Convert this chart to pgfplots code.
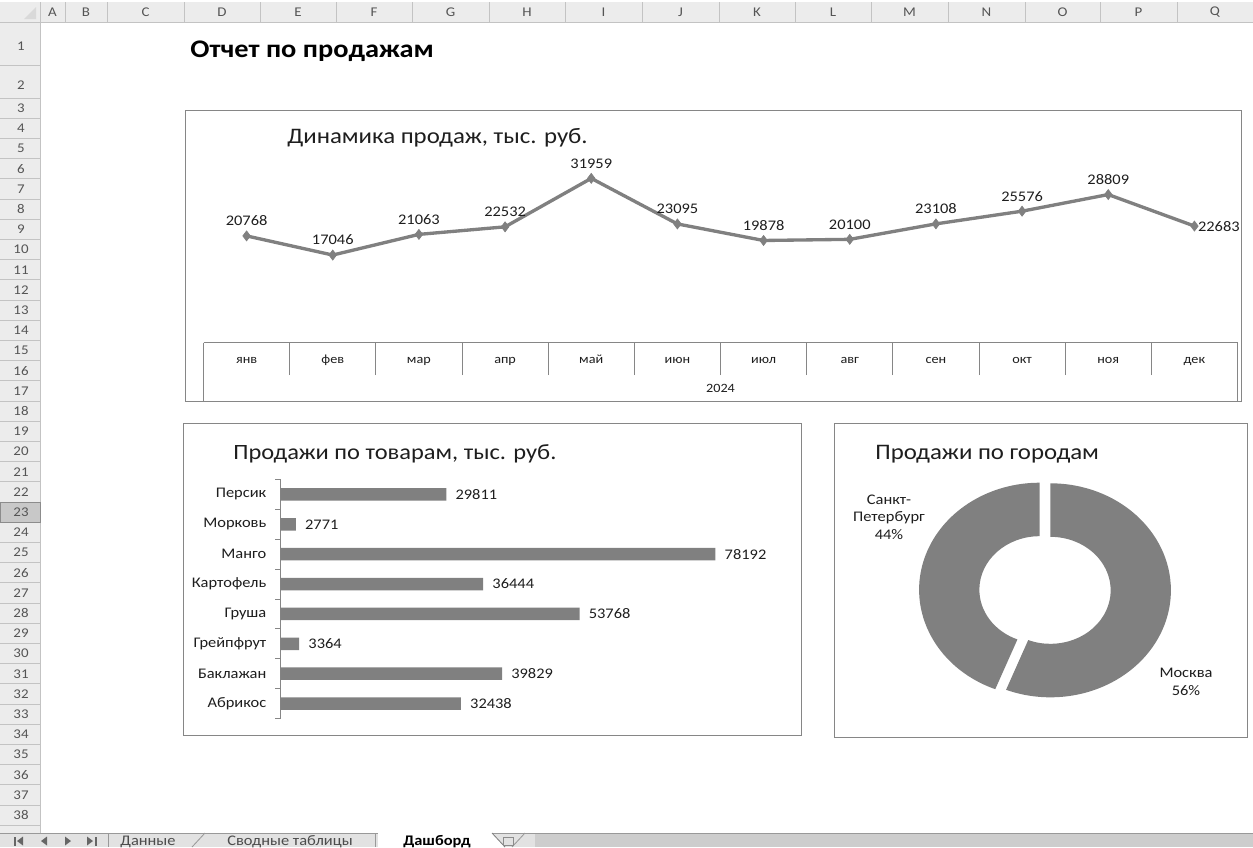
\documentclass[border=0pt]{standalone}
\usepackage{fontspec}
\setmainfont{Carlito}[FakeStretch=1.12]
\usepackage{pgfplots}
\pgfplotsset{compat=1.18}
\usepackage{pgfplotstable}
\usetikzlibrary{calc}

\definecolor{hdrbg}{RGB}{236,236,236}
\definecolor{hdrline}{RGB}{195,195,195}
\definecolor{hdrtxt}{RGB}{85,85,85}
\definecolor{sel}{RGB}{200,200,200}
\definecolor{framec}{RGB}{134,134,134}
\definecolor{series}{RGB}{128,128,128}
\definecolor{txt}{RGB}{30,30,30}
\definecolor{tabbg}{RGB}{226,226,226}
\definecolor{scrollbg}{RGB}{205,205,205}

\newcommand\lbl{\fontsize{8.8}{10.5}\selectfont}
\newcommand\catf{\fontsize{7.6}{9}\selectfont}
\newcommand\ttl{\fontsize{13.3}{16}\selectfont}
\newcommand\hdr{\fontsize{8}{9.6}\selectfont}

\pgfplotsset{/pgf/number format/.cd, assume math mode=true, 1000 sep={}}

% monthly sales, thousand rubles (2024)
\pgfplotstableread{
m y
0 20768
1 17046
2 21063
3 22532
4 31959
5 23095
6 19878
7 20100
8 23108
9 25576
10 28809
11 22683
}\monthly

% sales by product: Абрикос, Баклажан, Грейпфрут, Груша, Картофель, Манго, Морковь, Персик
\pgfplotstableread{
k v
0 32438
1 39829
2 3364
3 53768
4 36444
5 78192
6 2771
7 29811
}\products

% sales by city, percent
\def\pctMos{56}
\def\pctSpb{44}

\begin{document}
\begin{tikzpicture}[x=0.6pt,y=-0.6pt]
\useasboundingbox (0,0) rectangle (1253,847);
\clip (0,0) rectangle (1253,847);
\fill[white] (0,0) rectangle (1253,847);

% anchor points for the axes (pixel grid of the reference)
\coordinate (lineSW) at (203.5,342.7);
\coordinate (barSW) at (280.5,718.5);
\coordinate (donutC) at (1045,590);

% ---------- spreadsheet headers ----------
\fill[hdrbg] (0,2) rectangle (1253,22);
\fill[hdrbg] (0,22) rectangle (40,834);
\fill[sel] (0,502) rectangle (40,522.2);
\draw[hdrline, line width=0.5pt] (0,22) -- (1253,22);
\draw[hdrline, line width=0.5pt] (40,2) -- (40,834);
\fill[white!85!black] (36,7) -- (36,19) -- (24,19) -- cycle;
\foreach \c in {65,107,184,260,336,412,489,565,642,719,795,871,948,1025,1100,1177}
  \draw[hdrline, line width=0.5pt] (\c,2) -- (\c,22);
\foreach \l/\x in {A/52.5,B/86,C/145.5,D/222,E/298,F/374,G/450.5,H/527,I/603.5,J/680.5,K/757,L/833,M/909.5,N/986.5,O/1062.5,P/1138.5,Q/1215}
  \node[font=\hdr, text=hdrtxt] at (\x,12.5) {\l};
\draw[hdrline, line width=0.5pt] (0,65) -- (40,65);
\node[font=\hdr, text=hdrtxt] at (21,46) {1};
\node[font=\hdr, text=hdrtxt] at (21,85) {2};
\foreach \r in {3,...,39}
  \draw[hdrline, line width=0.5pt] (0,{98+(\r-3)*20.2}) -- (40,{98+(\r-3)*20.2});
\foreach \r in {3,...,38}
  \node[font=\hdr, text=hdrtxt] at (21,{108.3+(\r-3)*20.2}) {\r};
\draw[black!45, line width=0.5pt] (0,502) rectangle (40,522.2);

% ---------- sheet tabs ----------
\fill[tabbg] (0,833) rectangle (1253,847);
\fill[scrollbg] (535,833) rectangle (1253,847);
\draw[black!40, line width=0.5pt] (0,833) -- (1253,833);
\fill[black!60] (14,836.5) rectangle (15.5,845.5);
\fill[black!60] (23,836.5) -- (23,845.5) -- (17,841) -- cycle;
\fill[black!60] (47,836.5) -- (47,845.5) -- (41,841) -- cycle;
\fill[black!60] (65,836.5) -- (65,845.5) -- (71,841) -- cycle;
\fill[black!60] (87,836.5) -- (87,845.5) -- (93,841) -- cycle;
\fill[black!60] (95,836.5) rectangle (96.5,845.5);
\draw[black!40, line width=0.5pt] (108,833) -- (108,847);
\draw[black!40, line width=0.5pt] (192,847) -- (205,833);
\draw[black!40, line width=0.5pt] (375,833) -- (375,847);
\fill[white] (378,833) -- (492,833) -- (505,847) -- (378,847) -- cycle;
\draw[black!50, line width=0.5pt] (492,833) -- (505,847);
\draw[black!40, line width=0.5pt] (512,847) -- (525,833);
\draw[black!45, line width=0.5pt] (503,837) rectangle (513,845);
\node[font=\fontsize{8.8}{10}\selectfont, text=black!70, anchor=base, inner sep=0pt] at (148,845.5) {Данные};
\node[font=\fontsize{8.8}{10}\selectfont, text=black!70, anchor=base, inner sep=0pt] at (290,845.5) {Сводные таблицы};
\node[font=\fontsize{8.8}{10}\selectfont\bfseries, text=black, anchor=base, inner sep=0pt] at (437,845.5) {Дашборд};

% ---------- report title ----------
\node[font=\fontsize{15.2}{18}\selectfont\bfseries, text=black, anchor=base west, inner sep=0pt] at (190,57) {Отчет по продажам};

% ---------- chart frames ----------
\draw[framec, line width=0.6pt] (185,110) rectangle (1241,401);
\draw[framec, line width=0.6pt] (183,423) rectangle (801,735);
\draw[framec, line width=0.6pt] (834,423) rectangle (1247,737);

\node[font=\ttl, text=txt, anchor=base west, inner sep=0pt] at (287,143) {Динамика продаж, тыс. руб.};
\node[font=\fontsize{13.1}{16}\selectfont, text=txt, anchor=base west, inner sep=0pt] at (233,459) {Продажи по товарам, тыс. руб.};
\node[font=\ttl, text=txt, anchor=base west, inner sep=0pt] at (875,459) {Продажи по городам};

% outer edges of the category box of the line chart
\draw[framec, line width=0.6pt] (203.5,342.7) -- (203.5,400.5);
\draw[framec, line width=0.6pt] (1237.5,342.7) -- (1237.5,400.5);

% ---------- line chart ----------
\begin{axis}[
  at={(lineSW)}, anchor=south west,
  scale only axis, width=620.4pt, height=108pt,
  xmin=-0.5, xmax=11.5, ymin=0, ymax=35000,
  axis y line=none, axis x line*=bottom,
  axis line style={framec, line width=0.6pt, -},
  xtick={0,...,11},
  xticklabels={янв,фев,мар,апр,май,июн,июл,авг,сен,окт,ноя,дек},
  major tick length=0pt,
  minor xtick={-0.5,0.5,...,11.5},
  minor tick length=19.5pt,
  tick align=outside,
  tick style={framec, line width=0.6pt},
  xticklabel style={font=\catf, text=txt, anchor=base, yshift=-12.5pt},
  clip=false,
]
\addplot[series, line width=2pt, mark=diamond*, mark size=3pt,
  mark options={solid, fill=series, draw=series, line width=0.4pt}]
  table[x=m, y=y]{\monthly};
\addplot[draw=none, mark=none, nodes near coords,
  every node near coord/.style={font=\lbl, text=txt, anchor=center, yshift=9pt},
  skip coords between index={11}{12}]
  table[x=m, y=y]{\monthly};
\addplot[draw=none, mark=none, nodes near coords,
  every node near coord/.style={font=\lbl, text=txt, anchor=west, xshift=1pt, inner sep=1pt},
  skip coords between index={0}{11}]
  table[x=m, y=y]{\monthly};
\node[font=\catf, text=txt] at (rel axis cs:0.5,0) [yshift=-27.2pt] {2024};
\end{axis}

% ---------- bar chart ----------
\begin{axis}[
  at={(barSW)}, anchor=south west,
  scale only axis, width=300.4pt, height=143.4pt,
  xbar, bar width=7.5pt,
  xmin=0, xmax=90000, ymin=-0.5, ymax=7.5,
  axis x line=none, axis y line*=left,
  axis line style={framec, line width=0.6pt, -},
  ytick={0,...,7},
  yticklabels={Абрикос,Баклажан,Грейпфрут,Груша,Картофель,Манго,Морковь,Персик},
  major tick length=0pt,
  minor ytick={-0.5,0.5,...,7.5},
  minor tick length=3.3pt,
  tick align=outside,
  tick style={framec, line width=0.6pt},
  yticklabel style={font=\lbl, text=txt, xshift=-5pt},
  nodes near coords,
  nodes near coords style={font=\lbl, text=txt, anchor=west, xshift=2pt},
  clip=false,
]
\addplot[fill=series, draw=none] table[x=v, y=k]{\products};
\end{axis}

% ---------- doughnut chart ----------
\pgfmathsetmacro\aA{90}
\pgfmathsetmacro\aB{90-3.6*\pctMos}
\pgfmathsetmacro\aC{\aB-3.6*\pctSpb}
\pgfmathsetmacro\mMos{(\aA+\aB)/2}
\pgfmathsetmacro\mSpb{(\aB+\aC)/2}
\begin{axis}[
  at={(donutC)}, anchor=center,
  scale only axis, width=144.6pt, height=128.4pt,
  xmin=-1, xmax=1, ymin=-1, ymax=1,
  axis lines=none, clip=false,
]
\fill[series, shift={(\mMos:3.3pt and 1pt)}]
  ($(axis cs:0,0)+(\aA:72.3pt and 64.2pt)$) arc[start angle=\aA, end angle=\aB, x radius=72.3pt, y radius=64.2pt]
  -- ($(axis cs:0,0)+(\aB:36.15pt and 32.1pt)$) arc[start angle=\aB, end angle=\aA, x radius=36.15pt, y radius=32.1pt]
  -- cycle;
\fill[series, shift={(\mSpb:3.3pt and 1pt)}]
  ($(axis cs:0,0)+(\aB:72.3pt and 64.2pt)$) arc[start angle=\aB, end angle=\aC, x radius=72.3pt, y radius=64.2pt]
  -- ($(axis cs:0,0)+(\aC:36.15pt and 32.1pt)$) arc[start angle=\aC, end angle=\aB, x radius=36.15pt, y radius=32.1pt]
  -- cycle;
\end{axis}
\node[font=\lbl, text=txt, align=center, inner sep=0pt] at (889,517) {Санкт-\\Петербург\\44\%};
\node[font=\lbl, text=txt, align=center, inner sep=0pt] at (1186,682) {Москва\\56\%};

\end{tikzpicture}
\end{document}
